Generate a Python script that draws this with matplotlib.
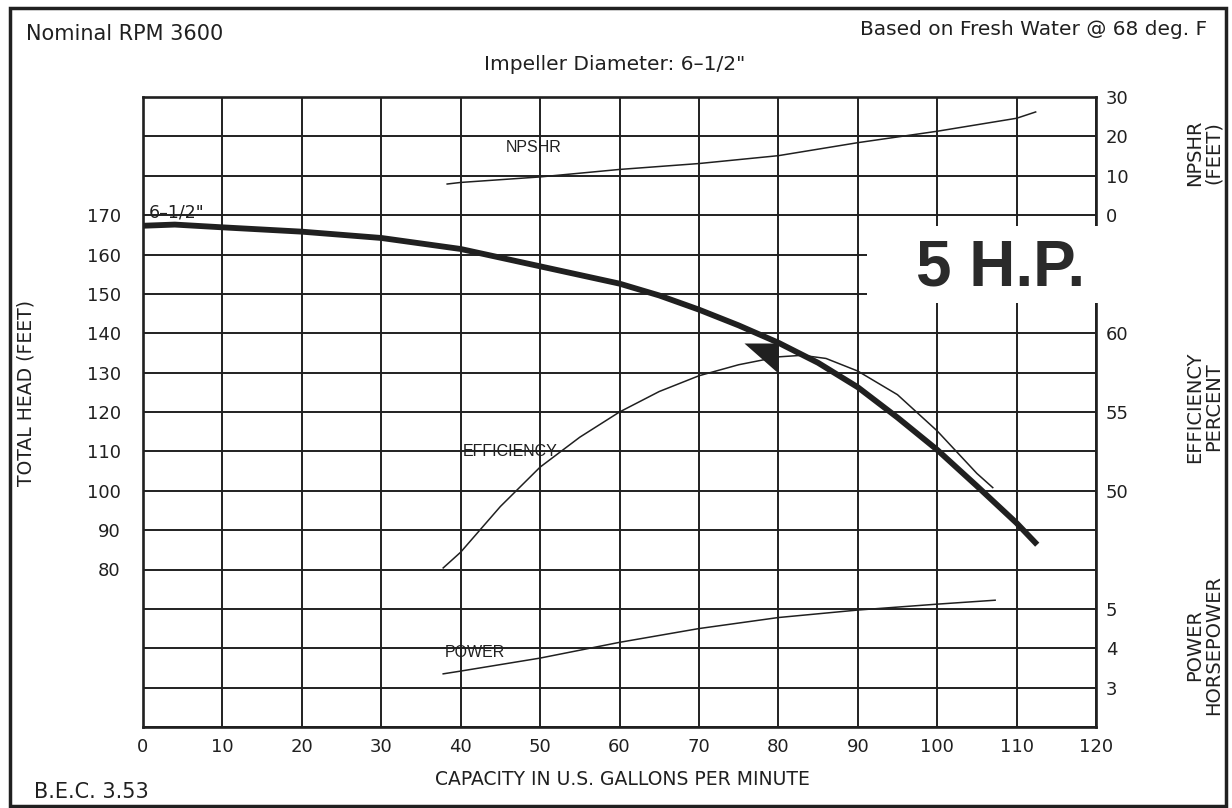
import matplotlib.pyplot as plt
import numpy as np
from matplotlib.patches import Rectangle

# pump curve (capacity in US GPM)
head_gpm = [0, 4, 10, 20, 30, 40, 50, 60, 65, 70, 75, 80, 85, 90, 95, 100, 105, 110, 112.6]
head_ft = [167.3, 167.6, 166.9, 165.8, 164.2, 161.4, 157.0, 152.6, 149.6, 146.0,
           142.0, 137.6, 132.5, 126.3, 118.6, 110.4, 101.2, 91.8, 86.3]

eff_gpm = [37.8, 40, 45, 50, 55, 60, 65, 70, 75, 80, 83, 86, 90, 95, 100, 105, 107]
eff_pct = [45.1, 46.1, 49.0, 51.5, 53.4, 55.0, 56.3, 57.3, 58.0, 58.5, 58.6, 58.4,
           57.6, 56.1, 53.8, 51.1, 50.2]

npsh_gpm = [38.3, 40, 50, 60, 70, 80, 90, 100, 110, 112.4]
npsh_ft = [7.9, 8.3, 9.7, 11.6, 13.1, 15.1, 18.4, 21.3, 24.6, 26.2]

power_gpm = [37.8, 40, 50, 60, 70, 80, 90, 100, 107.3]
power_hp = [3.35, 3.42, 3.75, 4.15, 4.5, 4.78, 4.97, 5.12, 5.22]

bep_gpm = 80
bep_head = 133.8

x_ticks = list(range(0, 121, 10))
head_labels = list(range(80, 171, 10))
npsh_ticks = [0, 10, 20, 30]
eff_ticks = [50, 55, 60]
power_ticks = [3, 4, 5]

INK = '#202020'
W, H = 1232, 808

plt.rcParams['font.family'] = ['DejaVu Sans']
narrow = ['Liberation Sans Narrow', 'Liberation Sans', 'DejaVu Sans']

fig = plt.figure(figsize=(W / 100, H / 100), dpi=100)
ax = fig.add_axes([143 / W, 1 - 727 / H, (1096 - 143) / W, (727 - 97) / H])
ax.set_xlim(0, 120)
ax.set_ylim(40, 200)

grid_rows = np.arange(40, 201, 10)
ax.set_xticks(x_ticks)
ax.set_yticks(grid_rows)
ax.set_yticklabels([str(v) if v in head_labels else '' for v in grid_rows])
ax.tick_params(axis='y', length=0, pad=16, labelsize=13, labelcolor=INK)
ax.tick_params(axis='x', length=0, pad=8, labelsize=13, labelcolor=INK)
ax.grid(True, color=INK, lw=1.4)
ax.set_axisbelow(True)
for s in ax.spines.values():
    s.set_color(INK)
    s.set_linewidth(1.9)

ax.plot(head_gpm, head_ft, color=INK, lw=4.2, solid_capstyle='butt', zorder=4)
tri = [(-2.27, 1), (0, 1), (0, -1), (-2.27, 1)]
ax.plot([bep_gpm], [bep_head], marker=tri, markersize=49, color=INK,
        markeredgewidth=0, linestyle='none', zorder=5)

# white patch behind the "5 H.P." stamp, it breaks the grid and the right spine
ax.add_patch(Rectangle((91.2, 147.7), 29.6, 19.6, facecolor='white',
                       edgecolor='none', zorder=3, clip_on=False))
fig.text(1001 / W, 1 - 286 / H, '5 H.P.', family=['Liberation Sans', 'DejaVu Sans'],
         weight='bold', fontsize=46, color='#2a2a2a', ha='center', va='baseline')

# secondary scales share the right side, limits chosen to line up with the head grid
def twin(lims, ticks):
    t = ax.twinx()
    t.set_ylim(*lims)
    t.set_yticks(ticks)
    t.tick_params(axis='y', length=0, pad=7, labelsize=13, labelcolor=INK)
    for s in t.spines.values():
        s.set_visible(False)
    return t

ax_n = twin((-130, 30), npsh_ticks)
ax_e = twin((35, 75), eff_ticks)
ax_p = twin((2, 18), power_ticks)

ax_n.plot(npsh_gpm, npsh_ft, color=INK, lw=1.1)
ax_e.plot(eff_gpm, eff_pct, color=INK, lw=1.1)
ax_p.plot(power_gpm, power_hp, color=INK, lw=1.1)

ax.text(0.75, 170.6, '6–1/2"', fontsize=12.5, color=INK, va='center', zorder=6)
ax.text(45.7, 187.3, 'NPSHR', family=narrow, fontsize=11.5, color=INK, va='center')
ax.text(40.2, 109.9, 'EFFICIENCY', family=narrow, fontsize=11.5, color=INK, va='center')
ax.text(38.0, 58.9, 'POWER', family=narrow, fontsize=11.5, color=INK, va='center')

fig.text(26 / W, 1 - 40 / H, 'Nominal RPM 3600', fontsize=15, color=INK, va='baseline')
fig.text(1207 / W, 1 - 35 / H, 'Based on Fresh Water @ 68 deg. F', fontsize=14.5,
         color=INK, ha='right', va='baseline')
fig.text(615 / W, 1 - 70 / H, 'Impeller Diameter: 6–1/2"', fontsize=14.5, color=INK,
         ha='center', va='baseline')
fig.text(622 / W, 1 - 785 / H, 'CAPACITY IN U.S. GALLONS PER MINUTE', fontsize=13.5,
         color=INK, ha='center', va='baseline')
fig.text(34 / W, 1 - 798 / H, 'B.E.C. 3.53', fontsize=15, color=INK, va='baseline')
fig.text(26 / W, 1 - 393 / H, 'TOTAL HEAD (FEET)', fontsize=13.5, color=INK,
         rotation=90, ha='center', va='center')

for label, yc in [('NPSHR\n(FEET)', 153), ('EFFICIENCY\nPERCENT', 407),
                  ('POWER\nHORSEPOWER', 645)]:
    fig.text(1204 / W, 1 - yc / H, label, fontsize=14, color=INK, rotation=90,
             ha='center', va='center', multialignment='center', linespacing=1.0)

# outer frame of the sheet
fig.add_artist(Rectangle((10 / W, 1 - 806 / H), 1216 / W, 798 / H, transform=fig.transFigure,
                         fill=False, edgecolor=INK, lw=2.5))

fig.savefig('out.png', dpi=100)
